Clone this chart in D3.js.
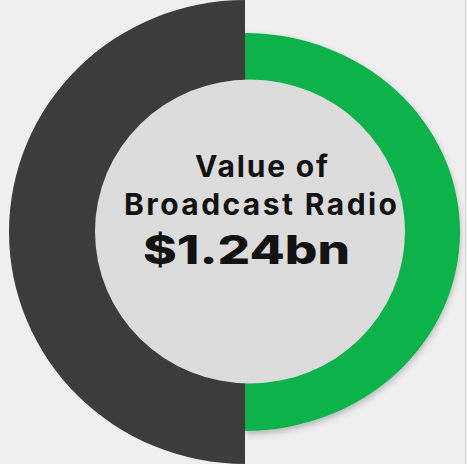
<!DOCTYPE html>
<html>
<head>
<meta charset="utf-8">
<script src="https://cdn.jsdelivr.net/npm/d3@7"></script>
<style>
  html, body { margin: 0; padding: 0; background: #efefef; }
  svg { display: block; }
  text { font-family: Inter, "DejaVu Sans", sans-serif; fill: #121212; }
</style>
</head>
<body>
<svg width="467" height="464"></svg>
<script>
// chart data
const segmentNames = ['Broadcast Radio', 'Other'];
const segmentValues = [1, 1];
const titleLines = ['Value of', 'Broadcast Radio'];
const valueLabel = '$1.24bn';

(function (d3) {
    'use strict';
    const svg = d3.select('svg');
    const width = 467, height = 464;

    svg.append('rect')
        .attr('width', width).attr('height', height)
        .attr('fill', '#efefef');
    svg.append('line')
        .attr('x1', 465.5).attr('x2', 465.5)
        .attr('y1', 0).attr('y2', height)
        .attr('stroke', '#d6d6d6');

    const defs = svg.append('defs');
    defs.append('filter')
        .attr('id', 'shadow')
        .attr('x', '-10%').attr('y', '-10%')
        .attr('width', '120%').attr('height', '125%')
      .append('feDropShadow')
        .attr('dx', 0).attr('dy', 3)
        .attr('stdDeviation', 3)
        .attr('flood-color', '#000')
        .attr('flood-opacity', 0.25);

    const colorScale = d3.scaleOrdinal()
        .domain(segmentNames)
        .range(['#0cb24c', '#3c3c3c']);

    // each half has its own radius and a slight horizontal stretch
    const ring = {
        'Broadcast Radio': { r: 199, sx: 215 / 199 },
        'Other': { r: 232, sx: 236 / 232 }
    };

    const pie = d3.pie().sort(null).value(d => d.value);
    const arcs = pie(segmentNames.map((name, i) => ({ name, value: segmentValues[i] })));

    const g = svg.append('g')
        .attr('transform', 'translate(245, 232)');

    g.selectAll('path.slice').data(arcs)
      .enter().append('path')
        .attr('class', 'slice')
        .attr('transform', d => `scale(${ring[d.data.name].sx}, 1)`)
        .attr('d', d => d3.arc().innerRadius(0).outerRadius(ring[d.data.name].r)(d))
        .attr('fill', d => colorScale(d.data.name))
        .attr('filter', d => d.data.name === 'Broadcast Radio' ? 'url(#shadow)' : null);

    // centre disc
    svg.append('ellipse')
        .attr('cx', 250).attr('cy', 231.5)
        .attr('rx', 155).attr('ry', 152)
        .attr('fill', '#dcdcdc');

    const label = svg.append('g');
    const lines = [
        { text: titleLines[0], x: 261.5, y: 177, size: 30, weight: 700, w: 133, adj: 'spacing' },
        { text: titleLines[1], x: 260.5, y: 215, size: 30, weight: 700, w: 273, adj: 'spacing' },
        { text: valueLabel, x: 246.5, y: 264, size: 40, weight: 800, w: 207, adj: 'spacingAndGlyphs' }
    ];
    label.selectAll('text').data(lines)
      .enter().append('text')
        .attr('x', d => d.x)
        .attr('y', d => d.y)
        .attr('text-anchor', 'middle')
        .attr('font-size', d => d.size)
        .attr('font-weight', d => d.weight)
        .attr('textLength', d => d.w)
        .attr('lengthAdjust', d => d.adj)
        .text(d => d.text);
}(d3));
</script>
</body>
</html>
